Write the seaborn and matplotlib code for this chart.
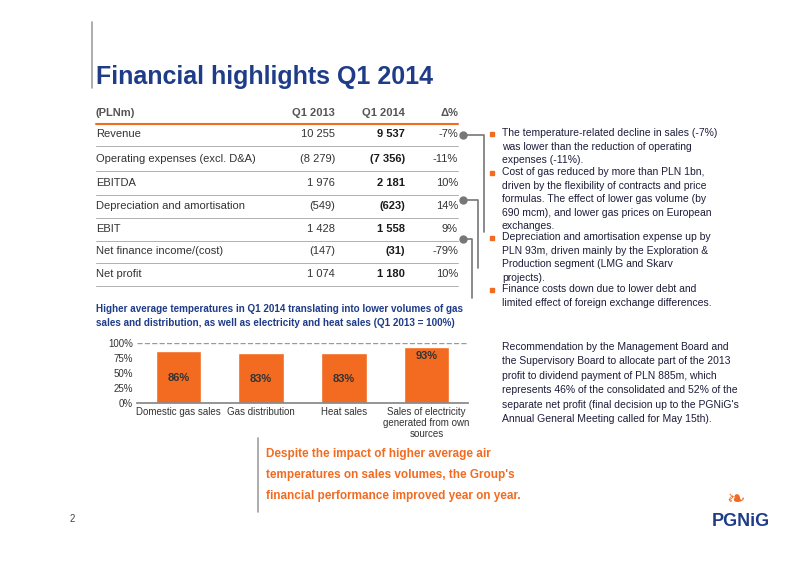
import matplotlib
matplotlib.use("Agg")
import matplotlib.pyplot as plt
import seaborn as sns
import pandas as pd

sns.set_theme(style="white")
plt.rcParams['font.family'] = ['Liberation Sans', 'DejaVu Sans']

BLUE = '#1F3C88'
ORANGE = '#F26B21'
TXT = '#1d1d3a'

categories = ["Domestic gas sales", "Gas distribution", "Heat sales",
              "Sales of electricity\ngenerated from own\nsources"]
values = [86, 83, 83, 93]

row_labels = ["Revenue", "Operating expenses (excl. D&A)", "EBITDA",
              "Depreciation and amortisation", "EBIT", "Net finance income/(cost)", "Net profit"]
q1_2013 = ["10 255", "(8 279)", "1 976", "(549)", "1 428", "(147)", "1 074"]
q1_2014 = ["9 537", "(7 356)", "2 181", "(623)", "1 558", "(31)", "1 180"]
delta = ["-7%", "-11%", "10%", "14%", "9%", "-79%", "10%"]

bullets = [
    "The temperature-related decline in sales (-7%)\nwas lower than the reduction of operating\nexpenses (-11%).",
    "Cost of gas reduced by more than PLN 1bn,\ndriven by the flexibility of contracts and price\nformulas. The effect of lower gas volume (by\n690 mcm), and lower gas prices on European\nexchanges.",
    "Depreciation and amortisation expense up by\nPLN 93m, driven mainly by the Exploration &\nProduction segment (LMG and Skarv\nprojects).",
    "Finance costs down due to lower debt and\nlimited effect of foreign exchange differences.",
]
bullet_y = [134, 173, 238, 290]

W, H = 800, 565
fig = plt.figure(figsize=(8, 5.65), dpi=100)
fig.patch.set_facecolor('white')
ov = fig.add_axes([0, 0, 1, 1])
ov.set_xlim(0, W)
ov.set_ylim(H, 0)
ov.axis('off')

# title
ov.plot([92, 92], [22, 88], color='#A0A0A0', lw=1.2)
ov.text(96, 84, "Financial highlights Q1 2014", fontsize=18, fontweight='bold', color=BLUE, va='baseline')

# table
ov.text(96, 113, "(PLNm)", fontsize=8, color='#555555', fontweight='bold', va='center')
ov.text(335, 113, "Q1 2013", fontsize=8, color='#555555', fontweight='bold', va='center', ha='right')
ov.text(405, 113, "Q1 2014", fontsize=8, color='#555555', fontweight='bold', va='center', ha='right')
ov.text(458, 113, "Δ%", fontsize=8, color='#555555', fontweight='bold', va='center', ha='right')
ov.plot([96, 458], [124, 124], color=ORANGE, lw=1.5)
row_y = [134, 159, 183, 206, 229, 251, 274]
for i, y in enumerate(row_y):
    ov.text(96, y, row_labels[i], fontsize=8, color='#333333', va='center')
    ov.text(335, y, q1_2013[i], fontsize=8, color='#333333', va='center', ha='right')
    ov.text(405, y, q1_2014[i], fontsize=8, color='#1a1a1a', va='center', ha='right', fontweight='bold')
    ov.text(458, y, delta[i], fontsize=8, color='#333333', va='center', ha='right')
    ov.plot([96, 458], [y + 12, y + 12], color='#B0B0B0', lw=0.7)

# connectors
for (y0, xr, y1) in [(135, 484, 232), (200, 478, 268), (239, 472, 298)]:
    ov.plot([463, xr, xr], [y0, y0, y1], color='#777777', lw=1.2)
    ov.plot(463, y0, 'o', color='#777777', ms=5)

# bullets
for y, t in zip(bullet_y, bullets):
    ov.plot(492, y, 's', color=ORANGE, ms=2.2)
    ov.text(502, y - 6, t, fontsize=7.5, color=TXT, va='top', linespacing=1.45)

ov.text(502, 342, "Recommendation by the Management Board and\nthe Supervisory Board to allocate part of the 2013\n"
        "profit to dividend payment of PLN 885m, which\nrepresents 46% of the consolidated and 52% of the\n"
        "separate net profit (final decision up to the PGNiG's\nAnnual General Meeting called for May 15th).",
        fontsize=7.5, color=TXT, va='top', linespacing=1.55)

# chart title
ov.text(96, 316, "Higher average temperatures in Q1 2014 translating into lower volumes of gas\n"
        "sales and distribution, as well as electricity and heat sales (Q1 2013 = 100%)",
        fontsize=7.1, color=BLUE, fontweight='bold', va='center', linespacing=1.6)

# bottom box
ov.plot([258, 258], [438, 512], color='#A0A0A0', lw=1.2)
ov.text(266, 475, "Despite the impact of higher average air\ntemperatures on sales volumes, the Group's\n"
        "financial performance improved year on year.", fontsize=8.5, color=ORANGE,
        fontweight='bold', va='center', linespacing=2.0)
ov.text(70, 519, "2", fontsize=7, color='#444444', va='center')
ov.text(712, 522, "PGNiG", fontsize=13, fontweight='bold', color=BLUE, va='center')
ov.text(736, 500, "\u2767", fontsize=16, color=ORANGE, va='center', ha='center')

# bar chart
ax = fig.add_axes([137 / W, 1 - 403 / H, (468 - 137) / W, (403 - 343) / H])
df = pd.DataFrame({"cat": categories, "val": values})
sns.barplot(data=df, x="cat", y="val", color=ORANGE, saturation=1, width=0.55, ax=ax)
ax.axhline(100, color='#999999', ls='--', lw=1)
ax.set_ylim(0, 100)
ax.set_yticks([0, 25, 50, 75, 100])
ax.set_yticklabels([f"{v}%" for v in [0, 25, 50, 75, 100]], fontsize=7, color='#333333')
ax.set_xticklabels(categories, fontsize=7, color='#333333', linespacing=1.1)
ax.set_xlabel("")
ax.set_ylabel("")
ax.tick_params(axis='both', length=0, pad=3)
for s in ['top', 'right', 'left']:
    ax.spines[s].set_visible(False)
ax.spines['bottom'].set_color('#888888')
for i, v in enumerate(values):
    yy = v - 14 if v > 90 else v / 2 - 2
    ax.text(i, yy, f"{v}%", ha='center', va='center', fontsize=8, fontweight='bold', color='#333333')

fig.savefig("out.png", dpi=100)
